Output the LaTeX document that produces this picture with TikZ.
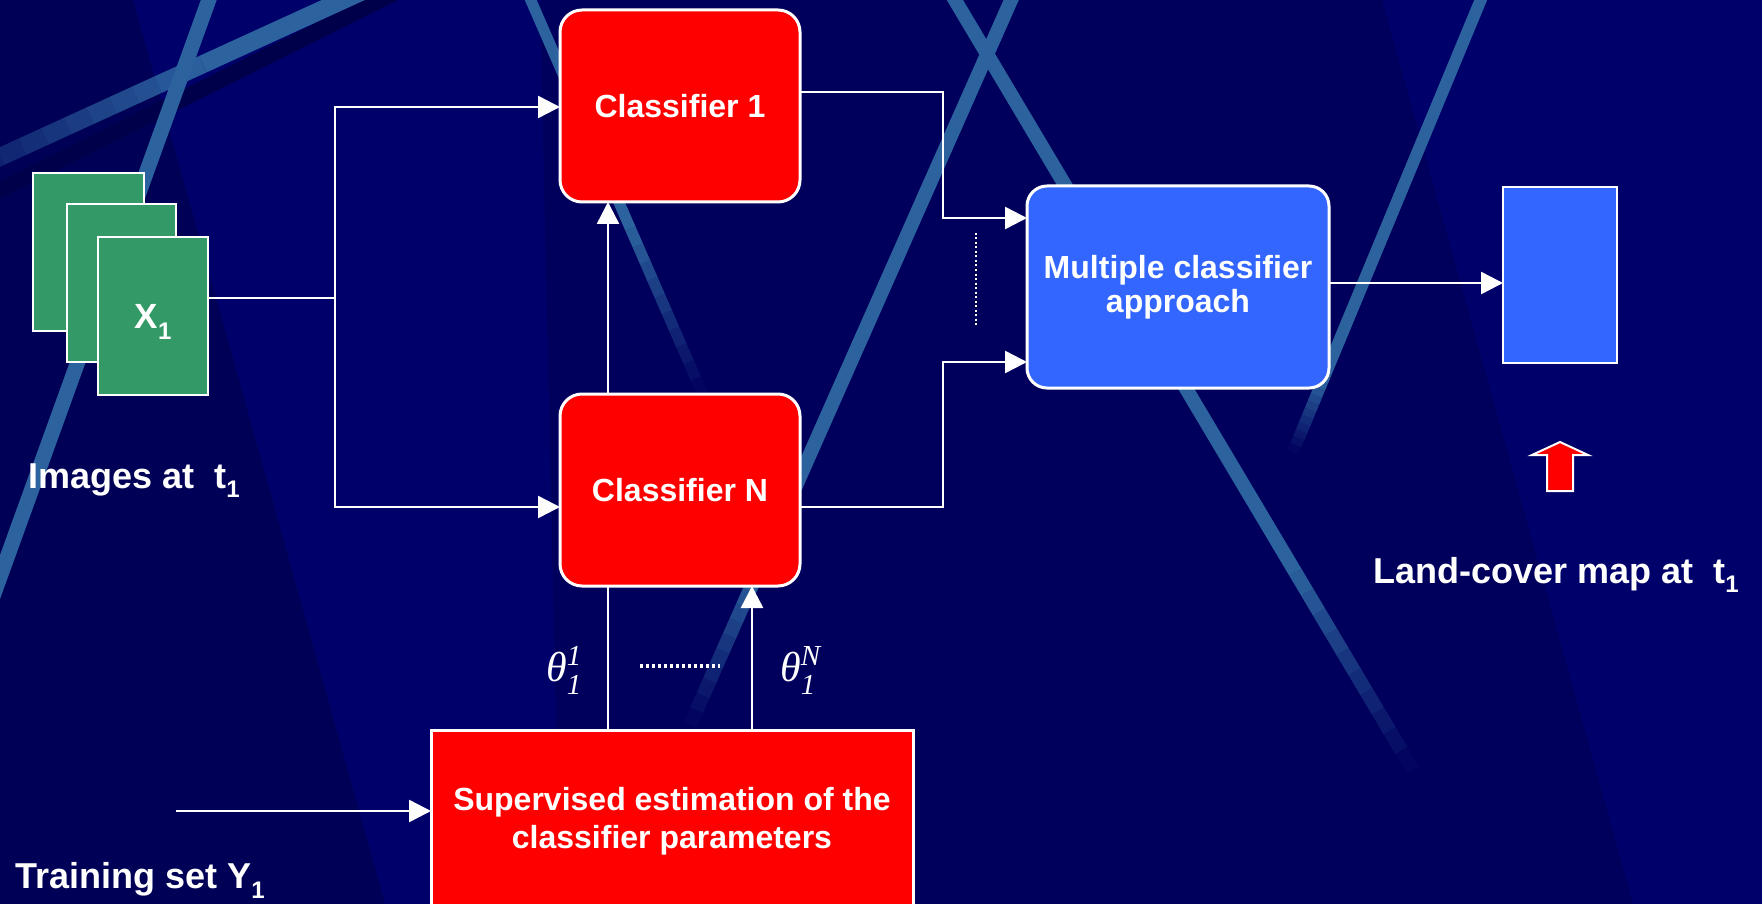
\documentclass[tikz,border=0pt]{standalone}
\usepackage{fontspec}
\setmainfont{Liberation Sans}
\newfontfamily\lserif{Liberation Serif}
\usetikzlibrary{arrows.meta,calc}

\definecolor{navy}{RGB}{0,0,106}
\definecolor{navydark}{RGB}{0,0,86}
\definecolor{navymid}{RGB}{0,0,92}
\definecolor{navydeep}{RGB}{0,0,74}
\definecolor{ribboncol}{RGB}{44,98,158}
\definecolor{boxred}{RGB}{255,0,0}
\definecolor{boxblue}{RGB}{51,102,255}
\definecolor{imggreen}{RGB}{51,153,102}

% lowered index that does not change the line box
\newcommand{\lowidx}[2][10pt]{\raisebox{-#1}[0pt][0pt]{\fontsize{24}{24}\selectfont #2}}
% parameter symbol theta with stacked upper and lower index
\newcommand{\thetalbl}[1]{{\lserif\itshape\fontsize{42}{42}\selectfont θ}{\lserif\itshape\fontsize{29}{29}\selectfont\rlap{\raisebox{16pt}{#1}}\raisebox{-13pt}{1}}}
% light background ribbon: from, to, width, fade start, fade depth
\newcommand{\ribbon}[5]{%
  \draw[ribboncol, line width=#3] (#1) -- ($(#1)!#4!(#2)$);
  \foreach \k in {0,...,9}{%
    \pgfmathsetmacro{\fa}{#4+(1-#4)*\k/10}%
    \pgfmathsetmacro{\fb}{#4+(1-#4)*(\k+1)/10}%
    \pgfmathsetmacro{\op}{1-#5*(\k+0.5)/10}%
    \draw[ribboncol, line width=#3, draw opacity=\op] ($(#1)!\fa!(#2)$) -- ($(#1)!\fb!(#2)$);
  }%
}

\begin{document}
\begin{tikzpicture}[x=1pt,y=-1pt,
  wline/.style={draw=white, line width=2.5pt},
  warrow/.style={wline, -{Triangle[length=22pt,width=22pt]}},
  roundbox/.style={draw=white, line width=3pt, rounded corners=22pt, inner sep=0pt,
    outer sep=0pt, anchor=north west, text=white, align=center},
  redround/.style={roundbox, fill=boxred, font=\fontsize{32}{37}\selectfont\bfseries},
  blueround/.style={roundbox, fill=boxblue, font=\fontsize{32}{34}\selectfont\bfseries},
  redsquare/.style={draw=white, line width=3pt, fill=boxred, inner sep=0pt, outer sep=0pt,
    anchor=north west, text=white, align=center, font=\fontsize{32}{38}\selectfont\bfseries},
  imgsheet/.style={draw=white, line width=2.5pt, fill=imggreen, inner sep=0pt, outer sep=0pt,
    anchor=north west, minimum width=110pt, minimum height=158pt, text=white,
    font=\fontsize{35}{35}\selectfont\bfseries},
  mapsheet/.style={draw=white, line width=2.5pt, fill=boxblue, inner sep=0pt, outer sep=0pt,
    anchor=north west},
  caption/.style={inner sep=0pt, anchor=base west, text=white,
    font=\fontsize{36}{36}\selectfont\bfseries},
]
\useasboundingbox (0,0) rectangle (1762,904);
\clip (0,0) rectangle (1762,904);

% background with darker facets and ribbons
\fill[navy] (0,0) rectangle (1762,904);
\fill[navydark] (0,0) -- (133,0) -- (385,904) -- (0,904) -- cycle;
\fill[navymid] (540,0) -- (1382,0) -- (1633,904) -- (930,904) -- (560,904) -- cycle;
\draw[navydeep, line width=16pt] (420,-20) -- (-20,200);
\ribbon{387,-20}{-22,167}{18pt}{0.45}{0.7}
\ribbon{216,-20}{-30,660}{15pt}{1}{0}
\ribbon{522,-20}{703,395}{11pt}{0.6}{1}
\ribbon{943,-20}{1413,770}{14pt}{0.75}{1}
\ribbon{1020,-20}{690,725}{14pt}{0.8}{1}
\ribbon{1489,-20}{1293,452}{12pt}{0.85}{1}

% input images
\node[imgsheet, minimum width=111pt] (img1) at (33,173) {};
\node[imgsheet, minimum width=109pt] (img2) at (67,204) {};
\node[imgsheet] (img3) at (98,237) {X\lowidx[11pt]{1}};

% processing blocks
\node[redround, minimum width=240pt, minimum height=192pt] (c1) at (560,10) {Classifier 1};
\node[redround, minimum width=240pt, minimum height=192pt] (cN) at (560,394) {Classifier N};
\node[blueround, minimum width=302pt, minimum height=202pt, rounded corners=20pt] (mc) at (1027,186)
  {Multiple classifier\\approach};
\node[mapsheet, minimum width=114pt, minimum height=176pt] (map) at (1503,187) {};
\node[redsquare, minimum width=482pt, minimum height=182pt] (est) at (431,730)
  {Supervised estimation of the\\classifier parameters};

% captions
\node[caption] (imgcap) at (28,488) {Images at\ \ t\lowidx[9pt]{1}};
\node[caption] (mapcap) at (1373,583) {Land-cover map at\ \ t\lowidx[9pt]{1}};
\node[caption] (trcap) at (15,888) {Training set Y\lowidx[10pt]{1}};

% parameter labels
\node[inner sep=0pt, anchor=base west, text=white] (th1) at (546,681) {\thetalbl{1}};
\node[inner sep=0pt, anchor=base west, text=white] (thN) at (780,681) {\thetalbl{N}};

% junction points
\coordinate (jn) at (335,298);
\coordinate (j1) at (335,107);
\coordinate (j2) at (335,507);
\coordinate (k1) at (943,92);
\coordinate (k2) at (943,218);
\coordinate (k3) at (943,507);
\coordinate (k4) at (943,362);
\coordinate (m1) at (0,283);
\coordinate (p1) at (608,0);
\coordinate (pN) at (752,0);
\coordinate (tr) at (176,811);

% connectors
\draw[wline] (img3.east |- jn) -- (jn);
\draw[warrow] (jn) -- (j1) -- (c1.west |- j1);
\draw[warrow] (jn) -- (j2) -- (cN.west |- j2);
\draw[warrow] (c1.east |- k1) -- (k1) -- (k2) -- (mc.west |- k2);
\draw[warrow] (cN.east |- k3) -- (k3) -- (k4) -- (mc.west |- k4);
\draw[warrow] (mc.east |- m1) -- (map.west |- m1);
\draw[wline] (est.north -| p1) -- (cN.south -| p1);
\draw[warrow] (cN.north -| p1) -- (c1.south -| p1);
\draw[warrow] (est.north -| pN) -- (cN.south -| pN);
\draw[warrow] (tr) -- (est.west |- tr);

% dotted ellipsis marks
\draw[white, line width=3.5pt, dash pattern=on 3pt off 3pt] (640,666) -- (720,666);
\draw[white, line width=1.5pt, dash pattern=on 2pt off 2.5pt] (976,233) -- (976,327);

% red block arrow under the map
\draw[white, line width=2pt, fill=boxred, line join=miter]
  (1560,442) -- (1588,455) -- (1573,455) -- (1573,491) -- (1547,491) -- (1547,455)
  -- (1532,455) -- cycle;
\end{tikzpicture}
\end{document}
